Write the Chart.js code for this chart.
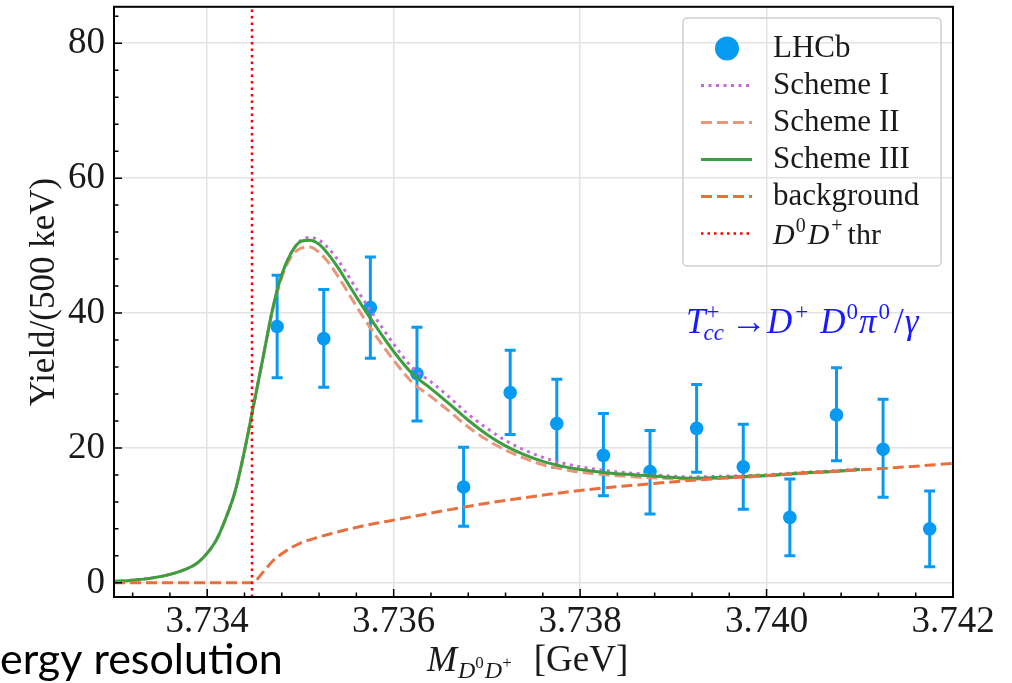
<!DOCTYPE html>
<html>
<head>
<meta charset="utf-8">
<title>Tcc+ yield near the D0D+ threshold</title>
<script src="https://cdn.jsdelivr.net/npm/chart.js@4.4.1/dist/chart.umd.min.js"></script>
<style>
  html, body { margin: 0; padding: 0; background: #fff; }
  canvas { display: block; }
</style>
</head>
<body>
<canvas id="yieldChart" width="1012" height="683"></canvas>
<script>
// LHCb points (500 keV bins) with their error bar ends
const lhcbMass = [3.73475, 3.73525, 3.73575, 3.73625, 3.73675, 3.73725, 3.73775, 3.73825,
                  3.73875, 3.73925, 3.73975, 3.74025, 3.74075, 3.74125, 3.74175];
const lhcbYield = [38.0, 36.2, 40.8, 31.0, 14.2, 28.2, 23.6, 18.9, 16.5, 22.9, 17.2, 9.7, 24.9, 19.8, 8.0];
const lhcbLow = [30.4, 29.0, 33.3, 24.0, 8.4, 22.0, 17.1, 12.9, 10.2, 16.4, 10.9, 4.0, 18.1, 12.7, 2.4];
const lhcbHigh = [45.6, 43.5, 48.3, 37.9, 20.1, 34.5, 30.2, 25.1, 22.6, 29.4, 23.5, 15.4, 31.9, 27.2, 13.6];

// model line shapes, all sampled on the same mass grid
const schemeMass = [3.7330, 3.7332, 3.7334, 3.7336, 3.7338, 3.7339, 3.7340, 3.7341, 3.7342, 3.7343,
                    3.7344, 3.7345, 3.7346, 3.7347, 3.7348, 3.7349, 3.7350, 3.7351, 3.7352, 3.7353,
                    3.7354, 3.7355, 3.7356, 3.7358, 3.7360, 3.7362, 3.7364, 3.7366, 3.7368, 3.7370,
                    3.7372, 3.7374, 3.7376, 3.7378, 3.7380, 3.7383, 3.7386, 3.7389, 3.7392, 3.7395,
                    3.7398, 3.7401, 3.7404, 3.7407, 3.7410];
const schemeI = [0.2, 0.4, 0.7, 1.25, 2.2, 3.0, 4.4, 6.4, 9.6, 13.6,
                 19.6, 26.5, 33.5, 40.5, 45.6, 48.9, 50.7, 51.2, 50.8, 49.6,
                 47.9, 45.8, 43.6, 39.4, 35.4, 31.9, 29.8, 27.5, 25.0, 22.9,
                 21.1, 19.7, 18.6, 17.8, 17.2, 16.6, 16.2, 15.9, 15.7, 15.8,
                 15.9, 16.1, 16.4, 16.6, 16.9];
const schemeII = [0.2, 0.4, 0.7, 1.25, 2.2, 3.0, 4.4, 6.4, 9.6, 13.6,
                  19.6, 26.5, 33.5, 40.3, 45.3, 48.3, 49.6, 49.8, 49.0, 47.5,
                  45.5, 43.3, 41.0, 36.8, 33.0, 29.7, 27.6, 25.4, 23.1, 21.2,
                  19.7, 18.5, 17.5, 16.9, 16.4, 16.0, 15.7, 15.5, 15.4, 15.5,
                  15.7, 16.0, 16.3, 16.5, 16.8];
const schemeIII = [0.2, 0.4, 0.7, 1.25, 2.2, 3.0, 4.4, 6.4, 9.6, 13.6,
                   19.6, 26.5, 33.5, 40.5, 45.7, 48.9, 50.6, 50.8, 50.2, 48.7,
                   46.8, 44.6, 42.4, 38.2, 34.3, 31.0, 28.8, 26.5, 24.1, 22.0,
                   20.3, 19.0, 18.0, 17.3, 16.8, 16.3, 16.0, 15.7, 15.5, 15.6,
                   15.8, 16.0, 16.3, 16.5, 16.8];

const backgroundMass = [3.7330, 3.73448, 3.7346, 3.7347, 3.7348, 3.7349, 3.7350, 3.7352, 3.7355, 3.7358,
                        3.7360, 3.7365, 3.7370, 3.7375, 3.7380, 3.7386, 3.7393, 3.7400, 3.7407, 3.7413, 3.7420];
const backgroundYield = [0, 0, 1.6, 3.2, 4.3, 5.2, 5.9, 6.8, 7.9, 8.8,
                         9.3, 10.6, 11.8, 12.8, 13.7, 14.5, 15.3, 15.9, 16.5, 17.0, 17.7];

const thresholdMass = 3.73448;

const xTickValues = [3.734, 3.736, 3.738, 3.740, 3.742];
const xTickLabels = ['3.734', '3.736', '3.738', '3.740', '3.742'];
const yTickValues = [0, 20, 40, 60, 80];
const yTickLabels = ['0', '20', '40', '60', '80'];

const serif = '"Liberation Serif", "Times New Roman", serif';
const textColor = '#1a1a1a';

function toPoints(xs, ys) {
    return xs.map((x, i) => ({ x: x, y: ys[i] }));
}

// Draws a run of text pieces (italics, sub/superscripts) left to right.
// A piece with `over` starts where the previous piece started.
function drawRich(ctx, parts, x, y, color) {
    ctx.fillStyle = color;
    ctx.textAlign = 'left';
    ctx.textBaseline = 'alphabetic';
    let cursor = x;
    let lastStart = x;
    for (const p of parts) {
        ctx.font = p.font;
        const w = ctx.measureText(p.text).width;
        const start = p.over ? lastStart + (p.gap || 0) : cursor + (p.gap || 0);
        ctx.fillText(p.text, start, y + (p.dy || 0));
        cursor = Math.max(cursor, start + w);
        lastStart = start;
    }
    return cursor - x;
}

const decayParts = [
    { text: 'T', font: 'italic 35px ' + serif },
    { text: 'cc', font: 'italic 23px ' + serif, dy: 7, gap: -2 },
    { text: '+', font: '23px ' + serif, dy: -14, over: true, gap: 3 },
    { text: '\u2192', font: '36px ' + serif, gap: 7 },
    { text: 'D', font: 'italic 35px ' + serif },
    { text: '+', font: '23px ' + serif, dy: -14, gap: 3 },
    { text: 'D', font: 'italic 35px ' + serif, gap: 12 },
    { text: '0', font: '23px ' + serif, dy: -14, gap: 1 },
    { text: '\u03c0', font: 'italic 35px ' + serif, gap: 1 },
    { text: '0', font: '23px ' + serif, dy: -14, gap: 2 },
    { text: '/', font: '35px ' + serif, gap: 4 },
    { text: '\u03b3', font: 'italic 35px ' + serif, gap: 1 }
];

const massTitleParts = [
    { text: 'M', font: 'italic 36px ' + serif },
    { text: 'D', font: 'italic 24px ' + serif, dy: 7, gap: 1 },
    { text: '0', font: '17px ' + serif, dy: -3 },
    { text: 'D', font: 'italic 24px ' + serif, dy: 7, gap: 1 },
    { text: '+', font: '17px ' + serif, dy: -3 },
    { text: '[GeV]', font: '37px ' + serif, gap: 22 }
];

const thresholdLabelParts = [
    { text: 'D', font: 'italic 30px ' + serif },
    { text: '0', font: '20px ' + serif, dy: -12, gap: 1 },
    { text: 'D', font: 'italic 30px ' + serif, gap: 2 },
    { text: '+', font: '20px ' + serif, dy: -12, gap: 2 },
    { text: 'thr', font: '30px ' + serif, gap: 5 }
];

const whiteBackground = {
    id: 'whiteBackground',
    beforeDraw(chart) {
        const ctx = chart.ctx;
        ctx.save();
        ctx.fillStyle = '#ffffff';
        ctx.fillRect(0, 0, chart.width, chart.height);
        ctx.restore();
    }
};

const errorBars = {
    id: 'errorBars',
    beforeDatasetsDraw(chart) {
        const ctx = chart.ctx;
        const area = chart.chartArea;
        const xScale = chart.scales.x;
        const yScale = chart.scales.y;
        ctx.save();
        ctx.beginPath();
        ctx.rect(area.left, area.top, area.right - area.left, area.bottom - area.top);
        ctx.clip();
        ctx.strokeStyle = '#069af3';
        ctx.lineWidth = 3;
        for (let i = 0; i < lhcbMass.length; i++) {
            const x = xScale.getPixelForValue(lhcbMass[i]);
            const yLow = yScale.getPixelForValue(lhcbLow[i]);
            const yHigh = yScale.getPixelForValue(lhcbHigh[i]);
            ctx.beginPath();
            ctx.moveTo(x, yLow);
            ctx.lineTo(x, yHigh);
            ctx.moveTo(x - 5.5, yLow);
            ctx.lineTo(x + 5.5, yLow);
            ctx.moveTo(x - 5.5, yHigh);
            ctx.lineTo(x + 5.5, yHigh);
            ctx.stroke();
        }
        ctx.restore();
    }
};

const frameAndText = {
    id: 'frameAndText',
    afterDraw(chart) {
        const ctx = chart.ctx;
        const area = chart.chartArea;
        const xScale = chart.scales.x;
        const yScale = chart.scales.y;
        ctx.save();

        // inward ticks on the bottom and left spines
        ctx.strokeStyle = '#000';
        ctx.lineWidth = 1.5;
        ctx.beginPath();
        for (let k = 0; k <= 22; k++) {
            const v = 3.7332 + k * 0.0004;
            const x = xScale.getPixelForValue(v);
            const len = k % 5 === 2 ? 8 : 4.5;
            ctx.moveTo(x, area.bottom);
            ctx.lineTo(x, area.bottom - len);
        }
        for (let v = 0; v <= 84; v += 4) {
            const y = yScale.getPixelForValue(v);
            const len = v % 20 === 0 ? 8 : 4.5;
            ctx.moveTo(area.left, y);
            ctx.lineTo(area.left + len, y);
        }
        ctx.stroke();

        ctx.lineWidth = 2;
        ctx.strokeRect(area.left, area.top, area.right - area.left, area.bottom - area.top);

        // legend
        const box = { left: 683, top: 18, right: 941, bottom: 266 };
        ctx.strokeStyle = '#cfcfcf';
        ctx.lineWidth = 1.5;
        ctx.beginPath();
        ctx.roundRect(box.left, box.top, box.right - box.left, box.bottom - box.top, 4);
        ctx.stroke();

        chart.data.datasets.forEach((ds, i) => {
            const rowY = 48.5 + i * 37;
            if (ds.showLine) {
                ctx.strokeStyle = ds.borderColor;
                ctx.lineWidth = ds.borderWidth;
                ctx.setLineDash(ds.borderDash || []);
                ctx.beginPath();
                ctx.moveTo(701, rowY);
                ctx.lineTo(752, rowY);
                ctx.stroke();
                ctx.setLineDash([]);
            } else {
                ctx.fillStyle = ds.backgroundColor;
                ctx.beginPath();
                ctx.arc(727, rowY, 12, 0, Math.PI * 2);
                ctx.fill();
            }
            if (ds.labelParts) {
                drawRich(ctx, ds.labelParts, 773, rowY + 10, textColor);
            } else {
                ctx.fillStyle = textColor;
                ctx.font = '31px ' + serif;
                ctx.textAlign = 'left';
                ctx.textBaseline = 'middle';
                ctx.fillText(ds.label, 773, rowY);
            }
        });

        // decay channel
        drawRich(ctx, decayParts, 686, 333, '#1a1aff');

        // axis titles
        drawRich(ctx, massTitleParts, 427, 671, textColor);
        ctx.save();
        ctx.translate(45, 292);
        ctx.rotate(-Math.PI / 2);
        ctx.fillStyle = textColor;
        ctx.font = '35px ' + serif;
        ctx.textAlign = 'center';
        ctx.textBaseline = 'middle';
        ctx.fillText('Yield/(500 keV)', 0, 0);
        ctx.restore();

        // slide caption running in from the left
        ctx.fillStyle = '#000';
        ctx.font = '43px Lato, "Noto Sans", sans-serif';
        ctx.textAlign = 'left';
        ctx.textBaseline = 'alphabetic';
        ctx.fillText('ergy resolution', 0, 674);

        ctx.restore();
    }
};

const config = {
    type: 'scatter',
    data: {
        datasets: [
            {
                label: 'LHCb',
                data: toPoints(lhcbMass, lhcbYield),
                showLine: false,
                pointRadius: 6.8,
                pointBorderWidth: 0,
                backgroundColor: '#069af3',
                order: 6
            },
            {
                label: 'Scheme I',
                data: toPoints(schemeMass, schemeI),
                showLine: true,
                borderColor: '#c46cdb',
                borderWidth: 3,
                borderDash: [3, 4.5],
                pointRadius: 0,
                cubicInterpolationMode: 'monotone',
                order: 5
            },
            {
                label: 'Scheme II',
                data: toPoints(schemeMass, schemeII),
                showLine: true,
                borderColor: '#e9967a',
                borderWidth: 3,
                borderDash: [11, 5],
                pointRadius: 0,
                cubicInterpolationMode: 'monotone',
                order: 4
            },
            {
                label: 'Scheme III',
                data: toPoints(schemeMass, schemeIII),
                showLine: true,
                borderColor: '#3d9e3d',
                borderWidth: 3,
                pointRadius: 0,
                cubicInterpolationMode: 'monotone',
                order: 3
            },
            {
                label: 'background',
                data: toPoints(backgroundMass, backgroundYield),
                showLine: true,
                borderColor: '#e8703f',
                borderWidth: 3,
                borderDash: [11, 5],
                pointRadius: 0,
                cubicInterpolationMode: 'monotone',
                order: 2
            },
            {
                label: 'D0D+ thr',
                labelParts: thresholdLabelParts,
                data: [{ x: thresholdMass, y: -2.1 }, { x: thresholdMass, y: 85.4 }],
                showLine: true,
                borderColor: '#ff0000',
                borderWidth: 2.5,
                borderDash: [2.5, 4],
                pointRadius: 0,
                order: 1
            }
        ]
    },
    options: {
        responsive: false,
        animation: false,
        layout: { padding: { left: 0, right: 59, top: 5, bottom: 0 } },
        plugins: {
            legend: { display: false },
            tooltip: { enabled: false }
        },
        scales: {
            x: {
                type: 'linear',
                min: 3.733,
                max: 3.742,
                afterBuildTicks: (scale) => { scale.ticks = xTickValues.map(v => ({ value: v })); },
                afterFit: (scale) => {
                    scale.height = 86;
                    scale.paddingLeft = 0;
                    scale.paddingRight = 0;
                },
                grid: { color: '#e3e3e3', lineWidth: 1.5, drawTicks: false },
                border: { display: false },
                ticks: {
                    padding: 3,
                    color: textColor,
                    font: { family: serif, size: 37 },
                    maxRotation: 0,
                    callback: (value, index) => xTickLabels[index]
                }
            },
            y: {
                type: 'linear',
                min: -2.1,
                max: 85.4,
                afterBuildTicks: (scale) => { scale.ticks = yTickValues.map(v => ({ value: v })); },
                afterFit: (scale) => {
                    scale.width = 114;
                    scale.paddingTop = 0;
                    scale.paddingBottom = 0;
                },
                grid: { color: '#e3e3e3', lineWidth: 1.5, drawTicks: false },
                border: { display: false },
                ticks: {
                    padding: 9,
                    color: textColor,
                    font: { family: serif, size: 37 },
                    callback: (value, index) => yTickLabels[index]
                }
            }
        }
    },
    plugins: [whiteBackground, errorBars, frameAndText]
};

new Chart(document.getElementById('yieldChart'), config);
</script>
</body>
</html>
